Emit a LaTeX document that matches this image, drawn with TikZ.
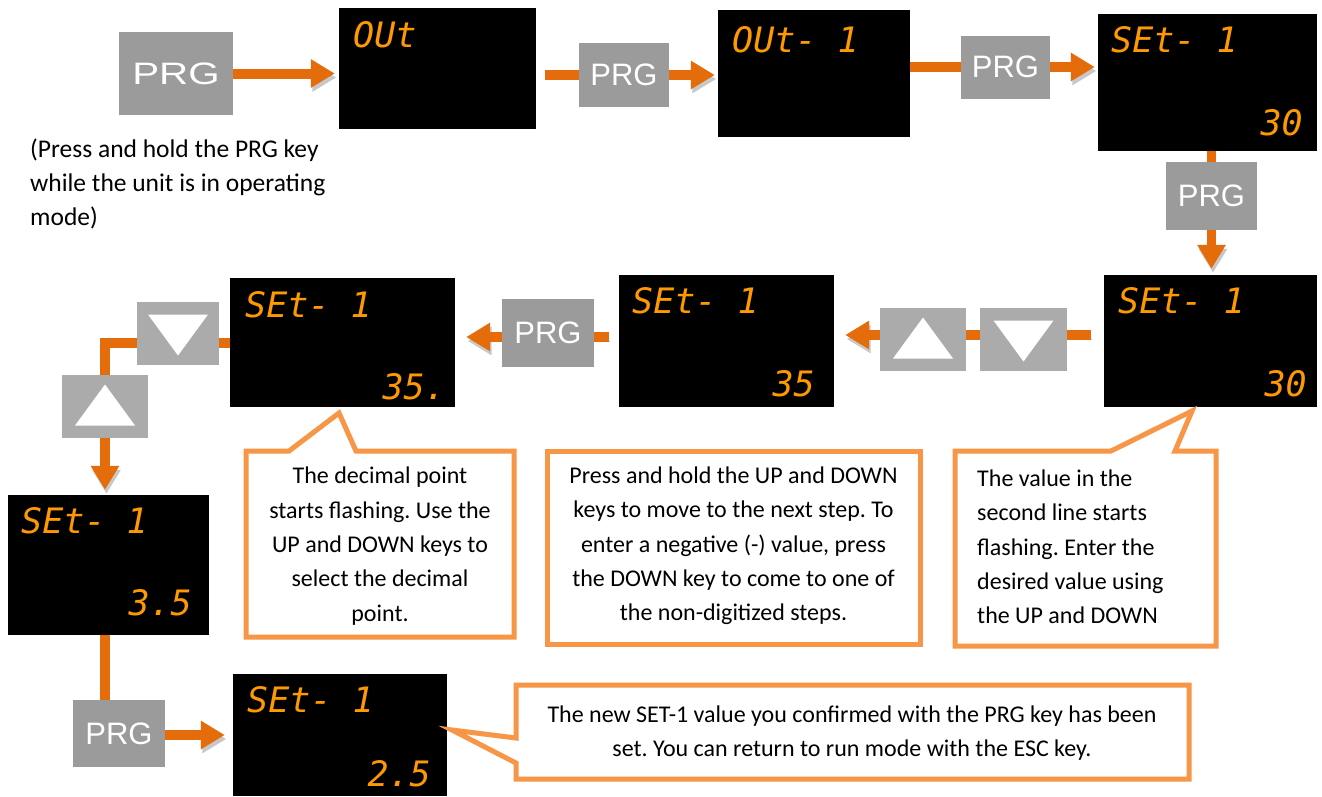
\documentclass[tikz,border=0pt]{standalone}
\usepackage{fontspec}
\setmainfont{Carlito}
\newfontfamily\segfont{DejaVu Sans Mono}
\newfontfamily\keyfont{Liberation Sans}
\usetikzlibrary{arrows.meta,calc}
\definecolor{arroworange}{RGB}{228,108,10}
\definecolor{shadowgray}{RGB}{200,200,200}
\definecolor{keygray}{RGB}{155,155,155}
\definecolor{arrowkeygray}{RGB}{171,171,171}
\definecolor{calloutorange}{RGB}{247,150,70}
\definecolor{segorange}{RGB}{255,153,0}
\pgfdeclarelayer{bg}
\pgfsetlayers{bg,main}
\frenchspacing
\begin{document}
\begin{tikzpicture}[x=1pt,y=-1pt,
  display/.style={fill=black, inner sep=0pt},
  segtext/.style={inner sep=0pt, text=segorange, font=\segfont\itshape\fontsize{35}{35}\selectfont},
  prgkey/.style={fill=keygray, inner sep=0pt, text=white, font=\keyfont\fontsize{31}{31}\selectfont},
  upkey/.style={fill=arrowkeygray, inner sep=0pt,
    path picture={\fill[white] ($(path picture bounding box.center)+(-30,19)$) -- ($(path picture bounding box.center)+(30,19)$) -- ($(path picture bounding box.center)+(0,-22)$) -- cycle;}},
  downkey/.style={fill=arrowkeygray, inner sep=0pt,
    path picture={\fill[white] ($(path picture bounding box.center)+(-30,-19)$) -- ($(path picture bounding box.center)+(30,-19)$) -- ($(path picture bounding box.center)+(0,22)$) -- cycle;}},
  flow/.style={line width=10pt, draw=arroworange, -{Triangle[length=24pt,width=27pt]},
    preaction={draw=shadowgray, transform canvas={xshift=1.5pt,yshift=-4pt}}},
  callout/.style={draw=calloutorange, line width=5pt, fill=white, line join=miter},
  callouttext/.style={inner sep=0pt, font=\fontsize{24}{34.3}\selectfont}
]
\useasboundingbox (0,0) rectangle (1322,796);

% displays
\node[display, minimum width=197pt, minimum height=121pt] (D1) at (437.5,68.5) {};
\node[display, minimum width=192pt, minimum height=127pt] (D2) at (814,73.5) {};
\node[display, minimum width=219pt, minimum height=137pt] (D3) at (1207.5,82.5) {};
\node[display, minimum width=213pt, minimum height=132pt] (D4) at (1210.5,341) {};
\node[display, minimum width=215pt, minimum height=132pt] (D5) at (726.5,341) {};
\node[display, minimum width=225pt, minimum height=129pt] (D6) at (342.5,342.5) {};
\node[display, minimum width=201pt, minimum height=140pt] (D7) at (108.5,565) {};
\node[display, minimum width=214pt, minimum height=122pt] (D8) at (340,735) {};

% display texts
\node[segtext, anchor=base west] (d1a) at (353,47) {OUt};
\node[segtext, anchor=base west] (d2a) at (732,52) {OUt- 1};
\node[segtext, anchor=base west] (d3a) at (1111,52) {SEt- 1};
\node[segtext, anchor=base east] (d3b) at (1303,135) {30};
\node[segtext, anchor=base west] (d4a) at (1118,313) {SEt- 1};
\node[segtext, anchor=base east] (d4b) at (1307,396) {30};
\node[segtext, anchor=base west] (d5a) at (632,313) {SEt- 1};
\node[segtext, anchor=base east] (d5b) at (815,396) {35};
\node[segtext, anchor=base west] (d6a) at (245,317) {SEt- 1};
\node[segtext, anchor=base east] (d6b) at (446,399) {35.};
\node[segtext, anchor=base west] (d7a) at (21,533) {SEt- 1};
\node[segtext, anchor=base east] (d7b) at (192,615) {3.5};
\node[segtext, anchor=base west] (d8a) at (247,712) {SEt- 1};
\node[segtext, anchor=base east] (d8b) at (431,786) {2.5};

% keys
\node[prgkey, minimum width=114pt, minimum height=83pt] (P0) at (176,73.5) {\scalebox{1.3}[1]{PRG}};
\node[prgkey, minimum width=90pt, minimum height=64pt] (P1) at (624,75) {PRG};
\node[prgkey, minimum width=89pt, minimum height=63pt] (P2) at (1005.5,67) {PRG};
\node[prgkey, minimum width=91pt, minimum height=68pt] (P3) at (1211.5,196) {PRG};
\node[prgkey, minimum width=92pt, minimum height=68pt] (P4) at (548,333) {PRG};
\node[prgkey, minimum width=92pt, minimum height=67pt] (P5) at (119,733.5) {PRG};
\node[downkey, minimum width=87pt, minimum height=63pt] (DK1) at (1023.5,339.5) {};
\node[upkey, minimum width=86pt, minimum height=63pt] (UK1) at (923,339.5) {};
\node[downkey, minimum width=82pt, minimum height=63pt] (DK2) at (178,333.5) {};
\node[upkey, minimum width=86pt, minimum height=63pt] (UK2) at (105,406.5) {};

% connectors
\begin{pgfonlayer}{bg}
\fill[white] (0,0) rectangle (1322,796);
\draw[flow, shorten >=4pt] (P0.east) -- (P0.east -| D1.west);
\draw[flow, shorten <=9pt, shorten >=3pt] (P1 -| D1.east) -- (P1 -| D2.west);
\draw[flow, shorten >=3pt] (P2 -| D2.east) -- (P2 -| D3.west);
\draw[flow, line width=9pt, shorten >=6pt] (P3 |- D3.south) -- (P3 |- D4.north);
\draw[flow, shorten <=13pt, shorten >=11pt] ([yshift=6pt]D4.west) -- ([yshift=6pt]D4.west -| D5.east);
\draw[flow, shorten <=10pt, shorten >=11pt] ([yshift=4pt]D5.west) -- ([yshift=4pt]D5.west -| D6.east);
\draw[flow, line join=miter, shorten >=5pt] (D6.west) -| (UK2 |- D7.north);
\draw[flow, line join=miter, shorten >=8pt] (UK2 |- D7.south) |- (D8.west);
\end{pgfonlayer}

% callouts
\draw[callout] (246,451) -- (289,451) -- (339,413) -- (356,451) -- (514,451) -- (514,637) -- (246,637) -- cycle;
\draw[callout] (547,451) rectangle (920,644);
\draw[callout] (955,451) -- (1111,451) -- (1192,411) -- (1175,451) -- (1216,451) -- (1216,646) -- (955,646) -- cycle;
\draw[callout] (516,685) -- (1189,685) -- (1189,779) -- (516,779) -- (516,763) -- (452,730) -- (516,738) -- cycle;

% texts
\node[callouttext, anchor=west, align=left, font=\fontsize{25.5}{34.3}\selectfont] (T0) at (30,184) {(Press and hold the PRG key\\while the unit is in operating\\mode)};
\node[callouttext, align=center] (T1) at (380,546) {The decimal point\\starts flashing. Use the\\UP and DOWN keys to\\select the decimal\\point.};
\node[callouttext, align=center] (T2) at (733.5,546) {Press and hold the UP and DOWN\\keys to move to the next step. To\\enter a negative (-) value, press\\the DOWN key to come to one of\\the non-digitized steps.};
\node[callouttext, anchor=west, align=left] (T3) at (977,547) {The value in the\\second line starts\\flashing. Enter the\\desired value using\\the UP and DOWN};
\node[callouttext, align=center] (T4) at (852,733) {The new SET-1 value you confirmed with the PRG key has been\\set. You can return to run mode with the ESC key.};
\end{tikzpicture}
\end{document}
